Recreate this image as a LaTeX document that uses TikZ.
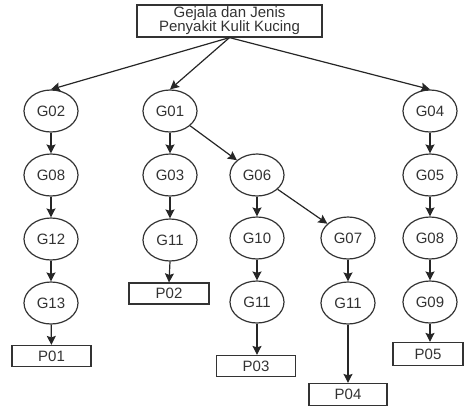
\documentclass[tikz,border=0pt]{standalone}
\usepackage{fontspec}
\setmainfont{Liberation Sans}
\usetikzlibrary{shapes.geometric,arrows.meta}
\begin{document}
\begin{tikzpicture}[x=1pt,y=-1pt,
  every node/.style={text=black!80,font=\fontsize{15}{16}\selectfont},
  gnode/.style={ellipse,draw=black!80,line width=1.2pt,minimum width=54pt,minimum height=42pt,inner sep=0pt},
  pbox/.style={rectangle,draw=black!80,line width=1.2pt,minimum height=21pt,inner sep=0pt},
  arr/.style={draw=black!85,line width=1.2pt,-{Stealth[length=9pt,width=9pt,inset=1.5pt]}}]
\useasboundingbox (0,0) rectangle (464,405);
% root
\node[rectangle,draw=black!80,line width=1.2pt,minimum width=185pt,minimum height=32pt,inner sep=0pt,align=center] (root) at (229.5,21) {Gejala dan Jenis\\[-2pt]Penyakit Kulit Kucing};
% column 1
\node[gnode] (g02) at (51,111) {G02};
\node[gnode] (g08a) at (51,175) {G08};
\node[gnode] (g12) at (51,239) {G12};
\node[gnode] (g13) at (51,303) {G13};
\node[pbox,minimum width=79pt] (p01) at (51.5,356) {P01};
% column 2
\node[gnode] (g01) at (170,111) {G01};
\node[gnode] (g03) at (170,175) {G03};
\node[gnode] (g11a) at (170,240) {G11};
\node[pbox,minimum width=80pt] (p02) at (169,293.5) {P02};
% column 3
\node[gnode] (g06) at (257,175) {G06};
\node[gnode] (g10) at (257,238) {G10};
\node[gnode] (g11b) at (257,302) {G11};
\node[pbox,minimum width=79pt] (p03) at (256,366) {P03};
% column 4
\node[gnode] (g07) at (348,238) {G07};
\node[gnode] (g11c) at (348,303) {G11};
\node[pbox,minimum width=78pt,minimum height=22pt] (p04) at (348,394.5) {P04};
% column 5
\node[gnode] (g04) at (430,111) {G04};
\node[gnode] (g05) at (430,175) {G05};
\node[gnode] (g08b) at (430,238) {G08};
\node[gnode] (g09) at (430,302) {G09};
\node[pbox,minimum width=70pt,minimum height=23pt] (p05) at (428,354) {P05};
% connectors
\draw[arr] (root.south) -- (g02.north);
\draw[arr] (root.south) -- (g01.north);
\draw[arr] (root.south) -- (g04.north);
\draw[arr] (g02) -- (g08a);
\draw[arr] (g08a) -- (g12);
\draw[arr] (g12) -- (g13);
\draw[arr] (g13) -- (p01);
\draw[arr] (g01) -- (g03);
\draw[arr] (g03) -- (g11a);
\draw[arr] (g11a.south) -- (p02.north);
\draw[arr] (g01) -- (g06);
\draw[arr] (g06) -- (g10);
\draw[arr] (g10) -- (g11b);
\draw[arr] (g11b.south) -- (p03.north -| g11b.south);
\draw[arr] (g06) -- (g07);
\draw[arr] (g07) -- (g11c);
\draw[arr] (g11c) -- (p04);
\draw[arr] (g04) -- (g05);
\draw[arr] (g05) -- (g08b);
\draw[arr] (g08b) -- (g09);
\draw[arr] (g09.south) -- (p05.north -| g09.south);
\end{tikzpicture}
\end{document}
